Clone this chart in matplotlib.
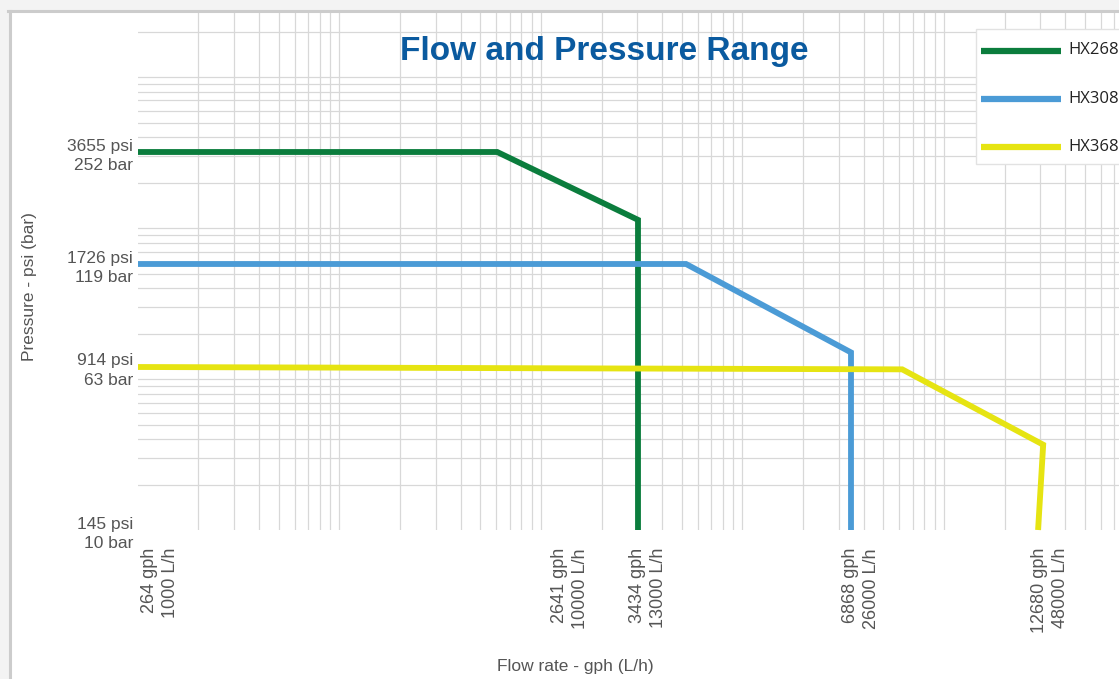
import numpy as np
import matplotlib
matplotlib.use("Agg")
import matplotlib.pyplot as plt
from matplotlib.ticker import LogLocator, NullLocator
from matplotlib.transforms import ScaledTranslation
from matplotlib.patches import Rectangle
from matplotlib.lines import Line2D

# ---- data (flow in L/h, pressure in psi) ----
flow_ticks = [1000, 10000, 13000, 26000, 48000]
gph_ticks = [264, 2641, 3434, 6868, 12680]
psi_ticks = [145, 914, 1726, 3655]
bar_ticks = [10, 63, 119, 252]

hx268_flow = [1000, 7100, 13000, 13000]
hx268_psi = [3655, 3655, 2320, 145]
hx308_flow = [1000, 15200, 26000, 26000]
hx308_psi = [1726, 1726, 1000, 145]
hx368_flow = [1000, 30700, 48500, 47700]
hx368_psi = [914, 890, 380, 145]

# ---- layout (pixels of the 1119x679 picture) ----
W, H = 1119, 679
left, right, top, bottom = 138, 1119, 13, 530
# where each tick value sits on the drawing (the axis is not a true log scale)
x_tick_px = [138, 560, 638, 851, 1040]
y_tick_px = [530, 367, 264, 152]
x_label_nudge = [22, 10, 10, 10, 10]  # px, rotated labels sit right of their tick
decade_x, decade_y = 201.5, 151  # background graph paper


def lin_extrap(v, xp, fp):
    v = np.asarray(v, dtype=float)
    out = np.interp(v, xp, fp)
    lo = (fp[1] - fp[0]) / (xp[1] - xp[0])
    hi = (fp[-1] - fp[-2]) / (xp[-1] - xp[-2])
    out = np.where(v < xp[0], fp[0] + (v - xp[0]) * lo, out)
    out = np.where(v > xp[-1], fp[-1] + (v - xp[-1]) * hi, out)
    return out


lx = np.log10(flow_ticks)
px_x = np.array(x_tick_px, float) - left
ly = np.log10(psi_ticks)
px_y = bottom - np.array(y_tick_px, float)


def fwd_x(v):
    return lin_extrap(np.log10(np.clip(v, 1e-9, None)), lx, px_x)


def inv_x(p):
    return 10 ** lin_extrap(p, px_x, lx)


def fwd_y(v):
    return lin_extrap(np.log10(np.clip(v, 1e-9, None)), ly, px_y)


def inv_y(p):
    return 10 ** lin_extrap(p, px_y, ly)


def fx(px):
    return px / W


def fy(py):
    return 1 - py / H


fig = plt.figure(figsize=(W / 100, H / 100), dpi=100, facecolor="#f3f3f3")
fig.patches.append(Rectangle((fx(10), 0), 1, fy(12), transform=fig.transFigure,
                             facecolor="white", edgecolor="none", zorder=-5))
fig.add_artist(Line2D([fx(9.5), fx(9.5)], [0, fy(11)], color="#cccccc", lw=2.2))
fig.add_artist(Line2D([fx(8), 1], [fy(11), fy(11)], color="#cccccc", lw=2.2))

rect = [fx(left), fy(bottom), (right - left) / W, (bottom - top) / H]

# graph-paper background
bg = fig.add_axes(rect, zorder=0)
bg.set_xscale("log")
bg.set_yscale("log")
bg.set_xlim(1.002, 10 ** ((right - left) / decade_x))
bg.set_ylim(1.004, 10 ** ((bottom - top) / decade_y))
for axis in (bg.xaxis, bg.yaxis):
    axis.set_major_locator(LogLocator(base=10, numticks=20))
    axis.set_minor_locator(LogLocator(base=10, subs=range(2, 10), numticks=20))
bg.grid(which="both", color="#d8d8d8", lw=0.9)
bg.tick_params(which="both", length=0, labelbottom=False, labelleft=False)
for s in bg.spines.values():
    s.set_visible(False)

# data axes
ax = fig.add_axes(rect, zorder=1)
ax.patch.set_alpha(0)
ax.set_xscale("function", functions=(fwd_x, inv_x))
ax.set_yscale("function", functions=(fwd_y, inv_y))
ax.set_xlim(inv_x(0.0), inv_x(right - left))
ax.set_ylim(inv_y(0.0), inv_y(bottom - top))
for s in ax.spines.values():
    s.set_visible(False)

lw = 4.2
style = dict(lw=lw, solid_joinstyle="miter", solid_capstyle="butt", clip_on=False)
l1, = ax.plot(hx268_flow, hx268_psi, color="#0b7d3d", label="HX268", **style)
l2, = ax.plot(hx308_flow, hx308_psi, color="#4b9bd6", label="HX308", **style)
l3, = ax.plot(hx368_flow, hx368_psi, color="#e6e412", label="HX368", **style)

font = "Liberation Sans"
grey = "#555555"

ax.set_xticks(flow_ticks, labels=[f"{g} gph\n{f} L/h" for g, f in zip(gph_ticks, flow_ticks)])
ax.set_yticks(psi_ticks, labels=[f"{p} psi\n{b} bar" for p, b in zip(psi_ticks, bar_ticks)])
ax.xaxis.set_minor_locator(NullLocator())
ax.yaxis.set_minor_locator(NullLocator())
ax.tick_params(axis="x", length=0, pad=13, labelsize=13, labelcolor=grey)
ax.tick_params(axis="y", length=0, pad=3.5, labelsize=12.5, labelcolor=grey)
for lab, dx in zip(ax.get_xticklabels(), x_label_nudge):
    lab.set_rotation(90)
    lab.set_va("top")
    lab.set_ha("center")
    lab.set_multialignment("right")
    lab.set_fontfamily(font)
    lab.set_linespacing(1.3)
    lab.set_transform(lab.get_transform() + ScaledTranslation(dx / 100, 0, fig.dpi_scale_trans))
for lab in ax.get_yticklabels():
    lab.set_fontfamily(font)
    lab.set_linespacing(1.35)
    lab.set_multialignment("right")

ax.set_ylabel("Pressure - psi (bar)", fontsize=12.5, color=grey, fontfamily=font)
ax.yaxis.set_label_coords((37 - left) / (right - left), (bottom - 287) / (bottom - top))
ax.set_xlabel("Flow rate - gph (L/h)", fontsize=12.5, color=grey, fontfamily=font)
ax.xaxis.set_label_coords((575 - left) / (right - left), -(659 - bottom) / (bottom - top))

fig.text(fx(604), fy(60), "Flow and Pressure Range", ha="center", va="baseline",
         fontsize=24, fontweight="bold", color="#0a5a9f", fontfamily=font)

# legend box drawn by hand: tall rows with the keys centred on their labels
fig.patches.append(Rectangle((fx(976), fy(164)), 1, (164 - 29) / H, transform=fig.transFigure,
                             facecolor="white", edgecolor="#e2e2e2", lw=1, zorder=5))
for i, ln in enumerate([l1, l2, l3]):
    yk = 50.5 + 48.3 * i
    fig.add_artist(Line2D([fx(981), fx(1061)], [fy(yk), fy(yk)], color=ln.get_color(),
                          lw=lw + 0.3, solid_capstyle="butt", zorder=6))
    fig.text(fx(1068), fy(yk), ln.get_label(), ha="left", va="center", fontsize=12,
             color="#222222", fontfamily="Open Sans", zorder=6)

fig.savefig("out.png", dpi=100, facecolor=fig.get_facecolor())
